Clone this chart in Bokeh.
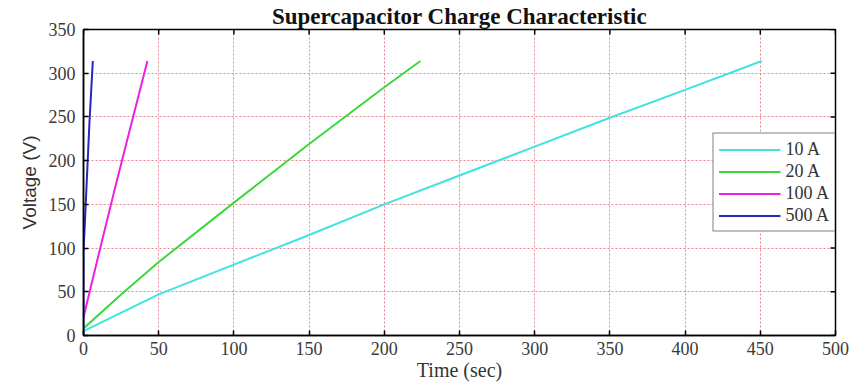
from bokeh.plotting import figure
from bokeh.models import Range1d, FixedTicker, Legend, LegendItem
from bokeh.embed import file_html
from bokeh.resources import INLINE

# ---- data ----
t_10a = [0, 50, 100, 150, 200, 250, 300, 350, 400, 451]
v_10a = [5, 47, 81, 115, 150, 183, 216, 249, 281, 314]
t_20a = [0, 25, 50, 100, 150, 200, 224]
v_20a = [8, 47, 84, 152, 219, 284, 314]
t_100a = [0, 10, 20, 30, 42.5]
v_100a = [21, 92, 162, 230, 314]
t_500a = [0, 0, 2, 4, 6.2]
v_500a = [0, 95, 170, 245, 314]

x_ticks = [0, 50, 100, 150, 200, 250, 300, 350, 400, 450, 500]
y_ticks = [0, 50, 100, 150, 200, 250, 300, 350]

series = [
    ("10 A", t_10a, v_10a, "#3fe3e0"),
    ("20 A", t_20a, v_20a, "#3ed63e"),
    ("100 A", t_100a, v_100a, "#f01ee0"),
    ("500 A", t_500a, v_500a, "#2626c0"),
]

SERIF = "Liberation Serif"
X0, X1, Y0, Y1 = 0, 500, 0, 350

p = figure(width=853, height=391, output_backend="svg", toolbar_location=None,
           x_range=Range1d(X0, X1), y_range=Range1d(Y0, Y1),
           min_border_left=83, min_border_right=18, min_border_top=29, min_border_bottom=56)

p.title.text = "Supercapacitor Charge Characteristic"
p.title.align = "center"
p.title.text_font = SERIF
p.title.text_font_size = "23px"
p.title.text_font_style = "bold"
p.title.text_color = "#111111"
p.title.offset = 0
p.title.standoff = 1

p.outline_line_color = "black"
p.outline_line_width = 1.5
p.outline_line_alpha = 1
p.background_fill_color = "white"
p.border_fill_color = "white"

for ax in (p.xaxis[0], p.yaxis[0]):
    ax.major_tick_in = 5
    ax.major_tick_out = 0
    ax.minor_tick_in = 0
    ax.minor_tick_out = 0
    ax.axis_line_color = "black"
    ax.axis_line_width = 1.5
    ax.major_tick_line_color = "black"
    ax.major_tick_line_width = 1.5
    ax.major_label_text_font = SERIF
    ax.major_label_text_font_size = "18px"
    ax.major_label_text_color = "#3a3a3a"

p.xaxis[0].ticker = FixedTicker(ticks=x_ticks)
p.yaxis[0].ticker = FixedTicker(ticks=y_ticks)
p.xaxis[0].major_label_standoff = 6
p.yaxis[0].major_label_standoff = 8

p.xaxis[0].axis_label = "Time (sec)"
p.xaxis[0].axis_label_text_font = SERIF
p.xaxis[0].axis_label_text_font_size = "20px"
p.xaxis[0].axis_label_text_font_style = "normal"
p.xaxis[0].axis_label_text_color = "#333333"
p.xaxis[0].axis_label_standoff = 1

p.yaxis[0].axis_label = "Voltage (V)"
p.yaxis[0].axis_label_text_font = "Liberation Sans"
p.yaxis[0].axis_label_text_font_size = "19px"
p.yaxis[0].axis_label_text_font_style = "normal"
p.yaxis[0].axis_label_text_color = "#333333"
p.yaxis[0].axis_label_standoff = 6

for g in (p.xgrid[0], p.ygrid[0]):
    g.grid_line_color = "#e5707c"
    g.grid_line_dash = "2 2"
    g.grid_line_width = 1
    g.grid_line_alpha = 0.85
p.xgrid[0].ticker = FixedTicker(ticks=x_ticks)
p.ygrid[0].ticker = FixedTicker(ticks=y_ticks)

# mirrored inward ticks on top and right edges (MATLAB box style)
tick_dx = 5 * (X1 - X0) / 752.0
tick_dy = 5 * (Y1 - Y0) / 306.0
p.segment(x0=x_ticks, y0=[Y1] * len(x_ticks), x1=x_ticks, y1=[Y1 - tick_dy] * len(x_ticks),
          line_color="black", line_width=1.5)
p.segment(x0=[X1] * len(y_ticks), y0=y_ticks, x1=[X1 - tick_dx] * len(y_ticks), y1=y_ticks,
          line_color="black", line_width=1.5)

items = []
for name, xs, ys, col in series:
    r = p.line(xs, ys, line_color=col, line_width=2)
    items.append(LegendItem(label=name, renderers=[r]))

legend = Legend(items=items, location="right", margin=0, padding=5, spacing=1,
                glyph_width=62, glyph_height=18, label_standoff=5,
                label_text_font=SERIF, label_text_font_size="18px", label_text_color="#333333",
                label_height=18, border_line_color="black", border_line_width=1.5,
                background_fill_color="white", background_fill_alpha=1)
p.add_layout(legend)

open("out.html", "w").write(file_html(p, INLINE))
